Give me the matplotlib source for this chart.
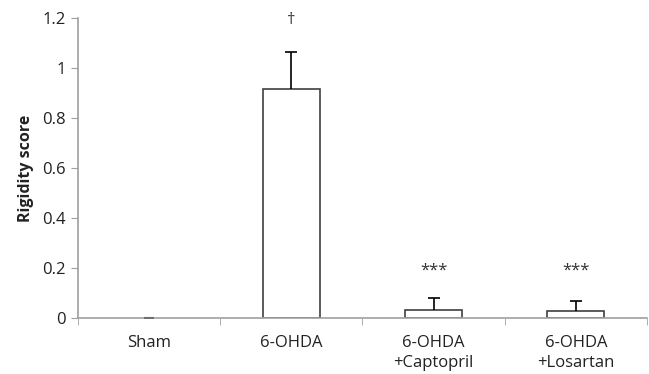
import numpy as np
import matplotlib.pyplot as plt

groups = ["Sham", "6-OHDA", "6-OHDA\n+Captopril", "6-OHDA\n+Losartan"]
scores = [0.0, 0.917, 0.032, 0.028]
errors = [0.0, 0.146, 0.049, 0.039]
marks = ["", "\u2020", "***", "***"]
mark_y = [0, 1.19, 0.19, 0.19]

plt.rcParams['font.family'] = ['Open Sans', 'DejaVu Sans']

fig = plt.figure(figsize=(6.49, 3.74), dpi=100)
ax = fig.add_axes([0.120, 0.150, 0.877, 0.802])

x = np.arange(len(groups))
sc = np.array(scores)
er = np.array(errors)
has = sc > 0
ax.bar(x[has], sc[has], width=0.4, color='white', edgecolor='#404040', linewidth=1.2, zorder=2)
# error bars: only upper whisker with cap
ax.vlines(x[has], sc[has], sc[has] + er[has], color='black', lw=1.2, zorder=3)
ax.plot(x[has], sc[has] + er[has], ls='none', marker='_', ms=9, mew=1.2, color='black', zorder=3)
# sham sits at zero
ax.plot(x[~has], sc[~has], ls='none', marker='_', ms=7, mew=1.5, color='#707070', zorder=3)

for xi, m, my in zip(x, marks, mark_y):
    if m:
        ax.text(xi, my, m, ha='center', va='center', fontsize=12, color='#333333')

ax.set_xlim(-0.5, len(groups) - 0.5)
ax.set_ylim(0, 1.2)
ax.set_yticks([0, 0.2, 0.4, 0.6, 0.8, 1, 1.2])
ax.set_yticklabels(['0', '0.2', '0.4', '0.6', '0.8', '1', '1.2'])
ax.set_xticks(x)
ax.set_xticklabels(groups, fontsize=12, color='#222222', linespacing=1.35)
ax.set_xticks(np.arange(-0.5, len(groups)), minor=True)
ax.tick_params(axis='x', which='major', length=0, pad=12)
ax.tick_params(axis='x', which='minor', length=5, color='#a0a0a0')
ax.tick_params(axis='y', length=5, color='#a0a0a0', labelsize=12, labelcolor='#222222')
ax.set_ylabel("Rigidity score", fontsize=11.5, fontweight='bold', color='#222222', labelpad=6)

for s in ['top', 'right']:
    ax.spines[s].set_visible(False)
for s in ['left', 'bottom']:
    ax.spines[s].set_color('#a0a0a0')
    ax.spines[s].set_linewidth(1.2)

plt.savefig('out.png', dpi=100)
